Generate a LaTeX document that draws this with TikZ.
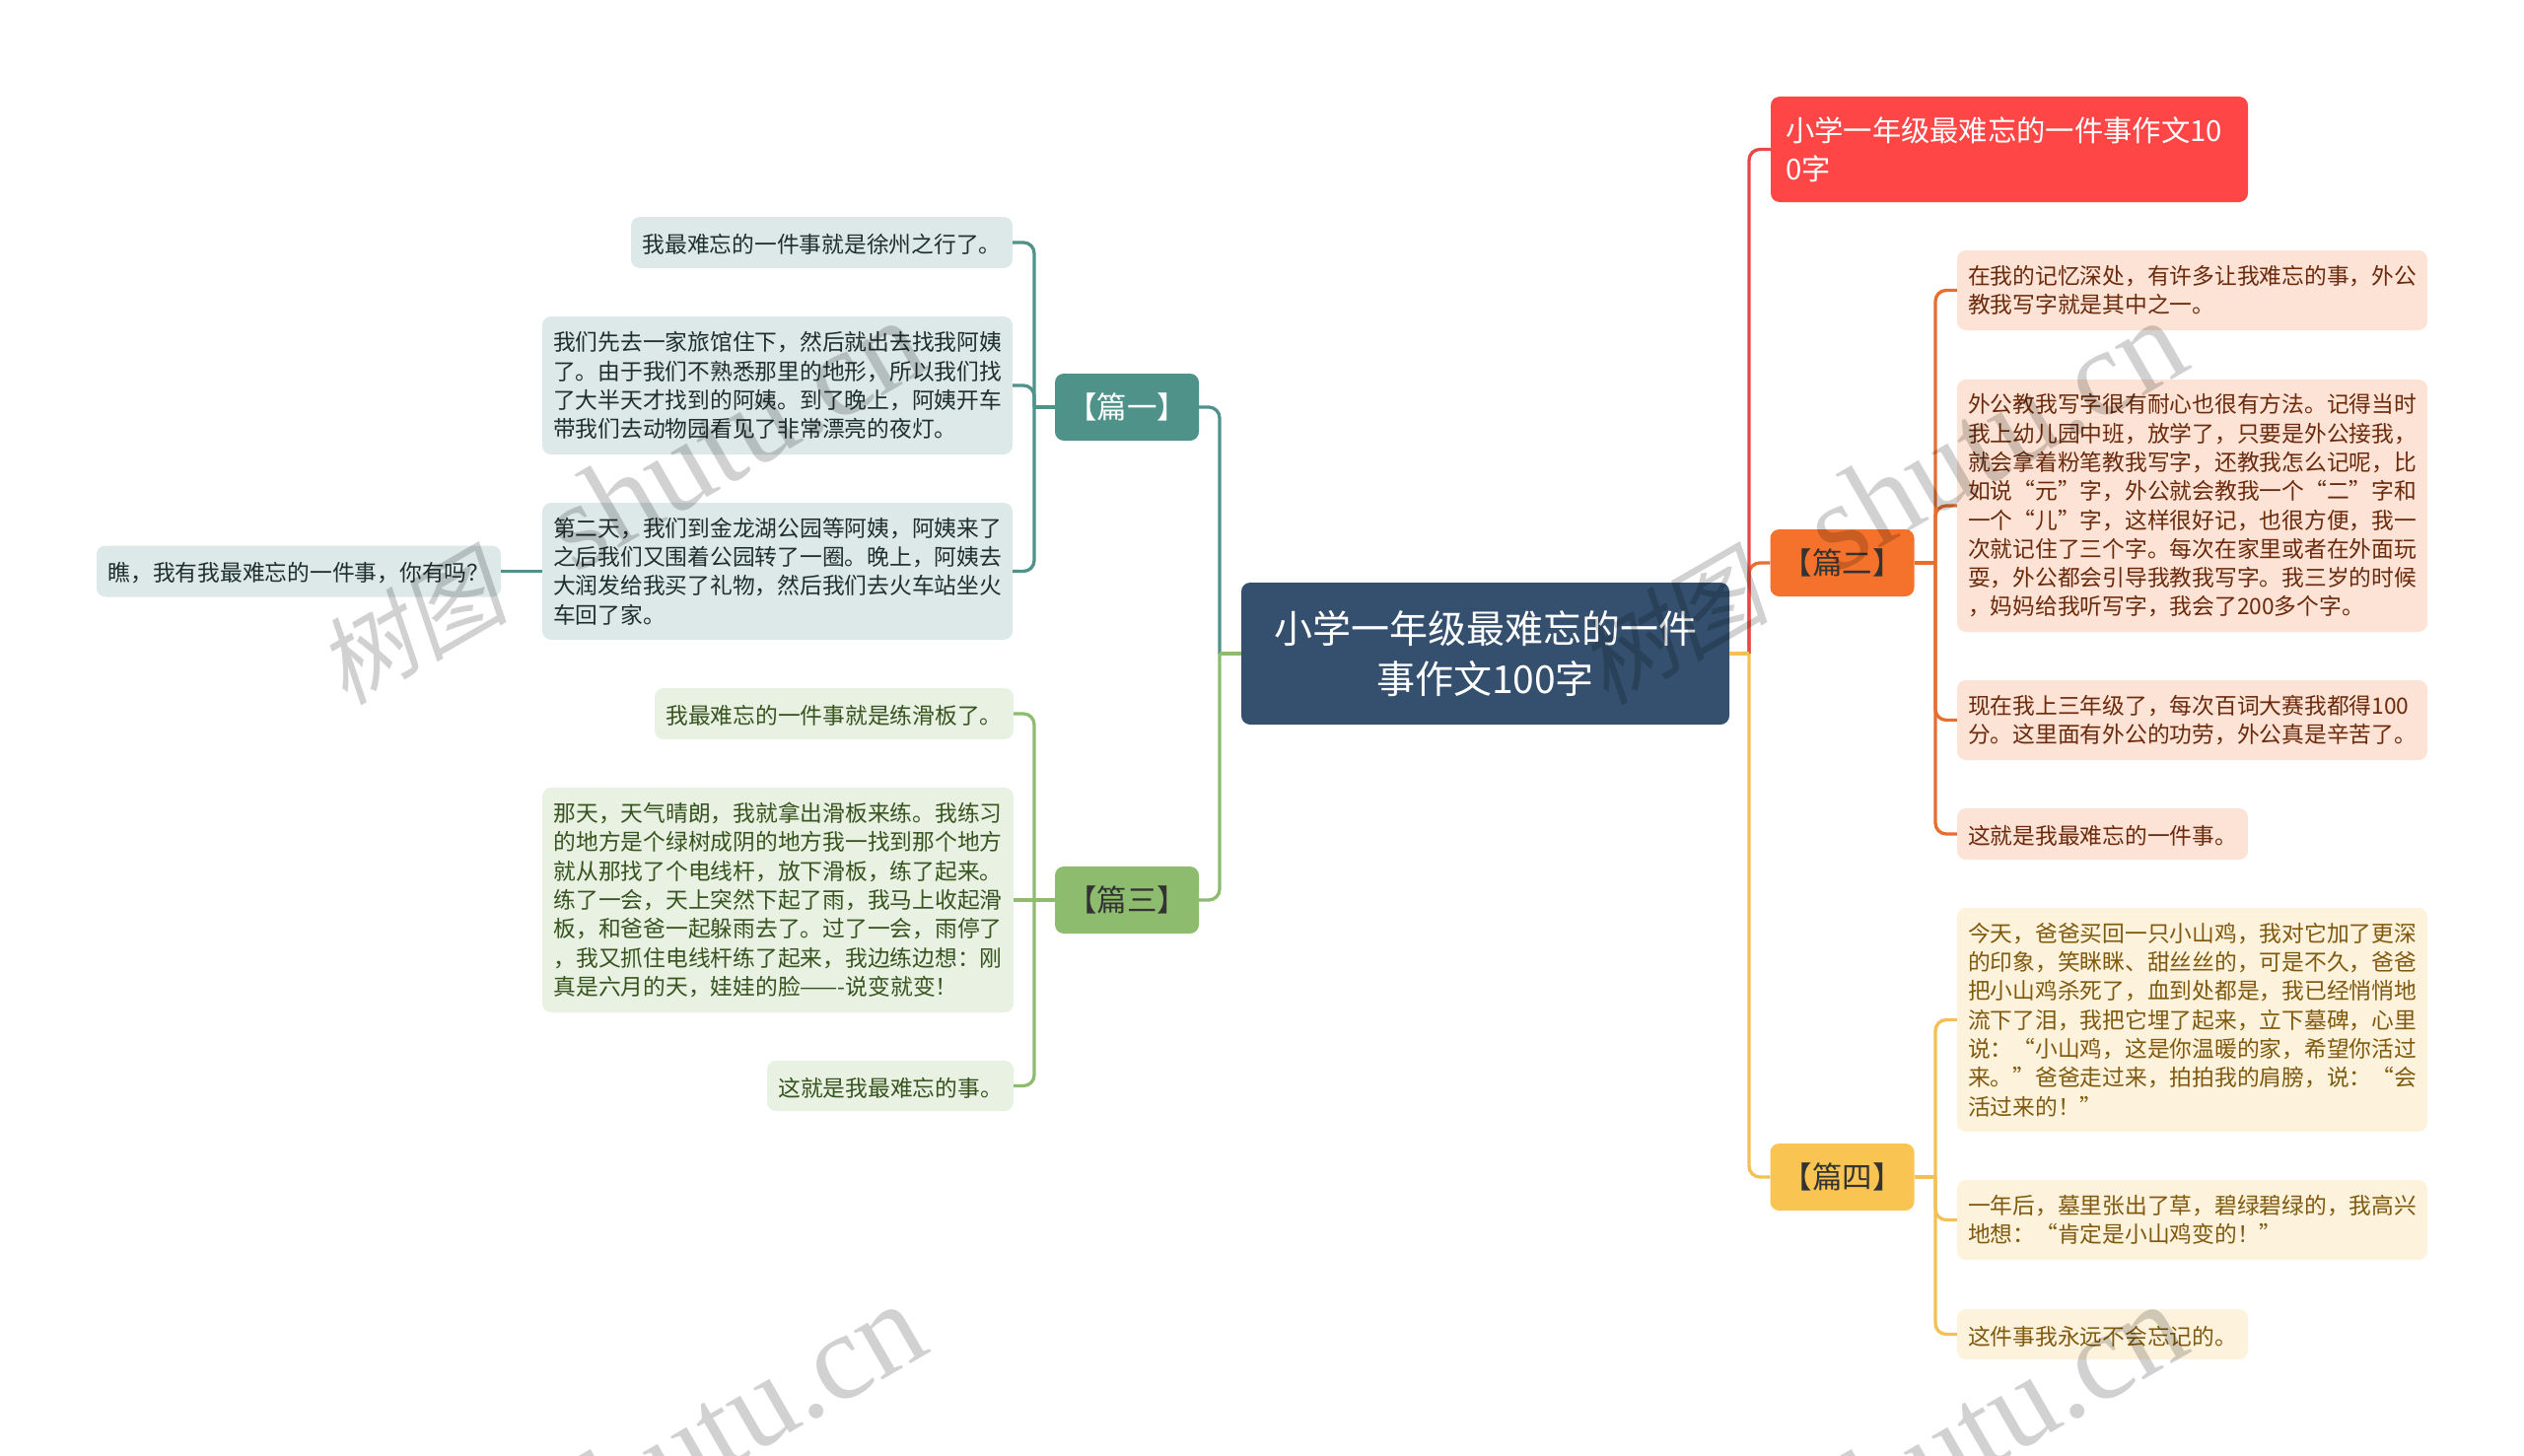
\documentclass[tikz,border=0pt]{standalone}
\usepackage{fontspec}
\setmainfont{Noto Sans CJK SC}
\newfontfamily\markcjk[FakeSlant=0.2]{Noto Sans CJK SC}
\newfontfamily\markserif{Liberation Serif}
\usetikzlibrary{calc}

\definecolor{rootblue}{HTML}{34506E}
\definecolor{titlered}{HTML}{FF4646}
\definecolor{redline}{HTML}{E8474A}
\definecolor{tealmain}{HTML}{4F928A}
\definecolor{tealpale}{HTML}{DDE9E8}
\definecolor{tealink}{HTML}{1F2F2D}
\definecolor{greenmain}{HTML}{8EBC6E}
\definecolor{greenpale}{HTML}{E8F1E2}
\definecolor{greenink}{HTML}{37541F}
\definecolor{orangemain}{HTML}{F4722B}
\definecolor{orangeline}{HTML}{E56F2F}
\definecolor{orangepale}{HTML}{FDE3D5}
\definecolor{orangeink}{HTML}{6B2A0C}
\definecolor{yellowmain}{HTML}{F9C451}
\definecolor{yellowline}{HTML}{F2C055}
\definecolor{yellowpale}{HTML}{FDF3DC}
\definecolor{yellowink}{HTML}{80590F}

\begin{document}
\begin{tikzpicture}[x=1pt, y=-1pt, every node/.style={inner sep=0pt, align=left},
                    box/.style={rounded corners=9pt},
                    leaf/.style={box, font=\fontsize{22.75}{29.3}\selectfont, execute at begin node={\rule{0pt}{23pt}}},
                    lines/.style={execute at begin node={\rule{0pt}{27pt}}},
                    topic/.style={box, minimum width=146, minimum height=68, font=\fontsize{30.5}{39}\selectfont},
                    edge/.style={line width=3.3pt, rounded corners=11pt},
                    tealleaf/.style={leaf, fill=tealpale, text=tealink},
                    greenleaf/.style={leaf, fill=greenpale, text=greenink},
                    orangeleaf/.style={leaf, fill=orangepale, text=orangeink},
                    yellowleaf/.style={leaf, fill=yellowpale, text=yellowink},
                    watermark/.style={anchor=base east, rotate=30, opacity=0.18, text=black}]

\useasboundingbox (0,0) rectangle (2560,1477);

% Root
\node[box, fill=rootblue, text=white, align=center, minimum width=495, minimum height=144,
      font=\fontsize{39}{51}\selectfont] (root) at (1506.5,663) {小学一年级最难忘的一件\\事作文100字};

% Left side, first branch
\node[topic, fill=tealmain, text=white] (topicone) at (1143,413) {【篇一】};
\node[tealleaf, minimum width=387, minimum height=52] (one1) at (833.5,246) {我最难忘的一件事就是徐州之行了。};
\node[tealleaf, lines, minimum width=477, minimum height=140] (one2) at (788.5,391) {我们先去一家旅馆住下，然后就出去找我阿姨\\了。由于我们不熟悉那里的地形，所以我们找\\了大半天才找到的阿姨。到了晚上，阿姨开车\\带我们去动物园看见了非常漂亮的夜灯。};
\node[tealleaf, lines, minimum width=477, minimum height=139] (one3) at (788.5,579.5) {第二天，我们到金龙湖公园等阿姨，阿姨来了\\之后我们又围着公园转了一圈。晚上，阿姨去\\大润发给我买了礼物，然后我们去火车站坐火\\车回了家。};
\node[tealleaf, minimum width=410, minimum height=52] (note) at (303,579.5) {瞧，我有我最难忘的一件事，你有吗？};

% Left side, third branch
\node[topic, fill=greenmain, text=black!80] (topicthree) at (1143,913) {【篇三】};
\node[greenleaf, minimum width=364, minimum height=52] (three1) at (846,724) {我最难忘的一件事就是练滑板了。};
\node[greenleaf, lines, minimum width=478, minimum height=228] (three2) at (789,913) {那天，天气晴朗，我就拿出滑板来练。我练习\\的地方是个绿树成阴的地方我一找到那个地方\\就从那找了个电线杆，放下滑板，练了起来。\\练了一会，天上突然下起了雨，我马上收起滑\\板，和爸爸一起躲雨去了。过了一会，雨停了\\，我又抓住电线杆练了起来，我边练边想：刚\\真是六月的天，娃娃的脸——-说变就变！};
\node[greenleaf, minimum width=250, minimum height=51] (three3) at (903,1101.5) {这就是我最难忘的事。};

% Right side, title
\node[box, fill=titlered, text=white, minimum width=484, minimum height=107,
      font=\fontsize{29.3}{39}\selectfont] (title) at (2038,151.5) {小学一年级最难忘的一件事作文10\rule{11pt}{0pt}\\0字};

% Right side, second branch
\node[topic, fill=orangemain, text=black!80] (topictwo) at (1868.5,571) {【篇二】};
\node[orangeleaf, lines, minimum width=477, minimum height=81] (two1) at (2223.5,294.5) {在我的记忆深处，有许多让我难忘的事，外公\\教我写字就是其中之一。};
\node[orangeleaf, lines, minimum width=477, minimum height=256] (two2) at (2223.5,513) {外公教我写字很有耐心也很有方法。记得当时\\我上幼儿园中班，放学了，只要是外公接我，\\就会拿着粉笔教我写字，还教我怎么记呢，比\\如说“元”字，外公就会教我一个“二”字和\\一个“儿”字，这样很好记，也很方便，我一\\次就记住了三个字。每次在家里或者在外面玩\\耍，外公都会引导我教我写字。我三岁的时候\\，妈妈给我听写字，我会了200多个字。};
\node[orangeleaf, lines, minimum width=477, minimum height=81] (two3) at (2223.5,730.5) {现在我上三年级了，每次百词大赛我都得100\\分。这里面有外公的功劳，外公真是辛苦了。};
\node[orangeleaf, minimum width=295, minimum height=52] (two4) at (2132.5,846) {这就是我最难忘的一件事。};

% Right side, fourth branch
\node[topic, fill=yellowmain, text=black!80] (topicfour) at (1868.5,1194) {【篇四】};
\node[yellowleaf, lines, minimum width=477, minimum height=227] (four1) at (2223.5,1034.5) {今天，爸爸买回一只小山鸡，我对它加了更深\\的印象，笑眯眯、甜丝丝的，可是不久，爸爸\\把小山鸡杀死了，血到处都是，我已经悄悄地\\流下了泪，我把它埋了起来，立下墓碑，心里\\说：“小山鸡，这是你温暖的家，希望你活过\\来。”爸爸走过来，拍拍我的肩膀，说：“会\\活过来的！”};
\node[yellowleaf, lines, minimum width=477, minimum height=81] (four2) at (2223.5,1237.5) {一年后，墓里张出了草，碧绿碧绿的，我高兴\\地想：“肯定是小山鸡变的！”};
\node[yellowleaf, minimum width=295, minimum height=51] (four3) at (2132.5,1353.5) {这件事我永远不会忘记的。};

% Forks
\coordinate (rootleft) at (1237,663);
\coordinate (rootright) at (1774,663);
\coordinate (forkone) at (1049,413);
\coordinate (forkthree) at (1049,913);
\coordinate (forktwo) at (1963,571);
\coordinate (forkfour) at (1963,1194);

% Connectors, left
\draw[edge, tealmain] (rootleft) |- (topicone.east);
\draw[edge, greenmain] (rootleft) |- (topicthree.east);
\draw[edge, greenmain] (root.west) -- (rootleft);
\draw[edge, tealmain] (topicone.west) -- (forkone);
\foreach \n in {one1,one2,one3} {
    \draw[edge, tealmain] (forkone) |- (\n.east);
}
\draw[edge, tealmain] (note.east) -- (one3.west);
\draw[edge, greenmain] (topicthree.west) -- (three2.east);
\foreach \n in {three1,three3} {
    \draw[edge, greenmain] (forkthree) |- (\n.east);
}

% Connectors, right
\draw[edge, orangeline] (rootright) |- (topictwo.west);
\draw[edge, redline] (rootright) |- (title.west);
\draw[edge, yellowline] (rootright) |- (topicfour.west);
\draw[edge, yellowline] (root.east) -- (rootright);
\draw[edge, orangeline] (topictwo.east) -- (forktwo);
\foreach \n in {two1,two2,two3,two4} {
    \draw[edge, orangeline] (forktwo) |- (\n.west);
}
\draw[edge, yellowline] (topicfour.east) -- (forkfour);
\foreach \n in {four1,four2,four3} {
    \draw[edge, yellowline] (forkfour) |- (\n.west);
}

% Watermarks
\foreach \i/\x/\y in {1/947/372, 2/2226/372, 3/947/1370, 4/2226/1370} {
    \node[watermark] (mark\i) at (\x,\y) {{\markcjk\fontsize{97}{97}\selectfont 树图}\hspace{75pt}{\markserif\fontsize{125}{125}\selectfont shutu.cn}};
}

\end{tikzpicture}
\end{document}
